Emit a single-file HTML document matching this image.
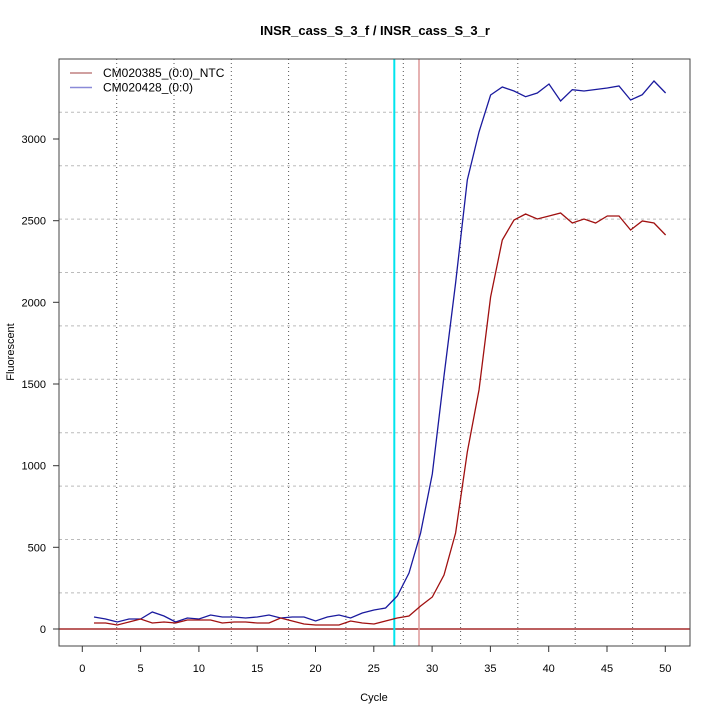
<!DOCTYPE html>
<html><head><meta charset="utf-8"><style>
html,body{margin:0;padding:0;background:#fff;}
svg{display:block;font-family:"Liberation Sans",Arial,sans-serif;}
</style></head><body>
<svg width="720" height="720" viewBox="0 0 720 720" xmlns="http://www.w3.org/2000/svg">
<rect width="720" height="720" fill="#fff"/>
<text x="375" y="35" text-anchor="middle" font-size="13" font-weight="bold">INSR_cass_S_3_f / INSR_cass_S_3_r</text>
<g stroke="#bbb" stroke-width="1" stroke-dasharray="3,3">
<line x1="59" x2="690" y1="112.3" y2="112.3"/><line x1="59" x2="690" y1="165.7" y2="165.7"/>
<line x1="59" x2="690" y1="219.1" y2="219.1"/><line x1="59" x2="690" y1="272.5" y2="272.5"/>
<line x1="59" x2="690" y1="325.9" y2="325.9"/><line x1="59" x2="690" y1="379.3" y2="379.3"/>
<line x1="59" x2="690" y1="432.7" y2="432.7"/><line x1="59" x2="690" y1="486.1" y2="486.1"/>
<line x1="59" x2="690" y1="539.5" y2="539.5"/><line x1="59" x2="690" y1="592.9" y2="592.9"/>
</g>
<g stroke="#555" stroke-width="1" stroke-dasharray="1,3">
<line y1="59" y2="646" x1="116.7" x2="116.7"/><line y1="59" y2="646" x1="174" x2="174"/>
<line y1="59" y2="646" x1="231.3" x2="231.3"/><line y1="59" y2="646" x1="288.6" x2="288.6"/>
<line y1="59" y2="646" x1="345.9" x2="345.9"/><line y1="59" y2="646" x1="403.3" x2="403.3"/>
<line y1="59" y2="646" x1="460.6" x2="460.6"/><line y1="59" y2="646" x1="517.8" x2="517.8"/>
<line y1="59" y2="646" x1="575.2" x2="575.2"/><line y1="59" y2="646" x1="632.6" x2="632.6"/>
</g>
<line x1="59" x2="690" y1="629" y2="629" stroke="#a52a2a" stroke-width="1.5"/>
<line x1="394.3" x2="394.3" y1="59" y2="646" stroke="#00e5ee" stroke-width="2"/>
<line x1="419" x2="419" y1="59" y2="646" stroke="#d99" stroke-width="1.5"/>
<polyline fill="none" stroke="#1a1a9e" stroke-width="1.3" points="94,617 105.6,619 117.3,622 129,619 140.6,619 152.3,612 164,616 175.6,622 187.3,618 199,619 210.6,615 222.3,617 234,617 245.6,618 257.3,617 269,615 280.6,618 292.3,617 304,617 315.6,621 327.3,617 339,615 350.6,618 362.3,613 374,610 385.6,608 397.3,596 409,573 420.6,533 432.3,474 444,376 455.6,283 467.3,180 479,132 490.6,95 502.3,87 514,91 525.6,96.7 537.3,93 549,84 560.6,101 572.3,89.7 584,91 595.6,89.5 607.3,88 619,86 630.6,100 642.3,94.7 654,81 665.6,93"/>
<polyline fill="none" stroke="#a01010" stroke-width="1.3" points="94,623 105.6,623 117.3,625 129,622 140.6,619 152.3,623 164,622 175.6,623 187.3,620 199,620 210.6,620 222.3,623 234,622 245.6,622 257.3,623 269,623 280.6,618 292.3,621 304,624 315.6,625 327.3,625 339,625 350.6,621 362.3,623 374,624 385.6,621 397.3,618 409,616 420.6,606 432.3,597 444,575 455.6,533 467.3,452 479,390 490.6,297 502.3,240 514,220 525.6,214 537.3,219 549,216 560.6,213 572.3,223 584,219 595.6,223 607.3,216 619,216 630.6,230 642.3,221 654,223 665.6,235"/>
<rect x="59" y="59" width="631" height="587" fill="none" stroke="#444" stroke-width="1"/>
<line x1="70" x2="92" y1="73" y2="73" stroke="#a04040" stroke-width="1"/>
<line x1="70" x2="92" y1="87.5" y2="87.5" stroke="#8a8ad8" stroke-width="1.5"/>
<text x="103" y="77" font-size="12">CM020385_(0:0)_NTC</text>
<text x="103" y="91.5" font-size="12">CM020428_(0:0)</text>
<g stroke="#333" stroke-width="1">
<line x1="53" x2="59" y1="629" y2="629"/><line x1="53" x2="59" y1="547.3" y2="547.3"/>
<line x1="53" x2="59" y1="465.7" y2="465.7"/><line x1="53" x2="59" y1="384" y2="384"/>
<line x1="53" x2="59" y1="302.3" y2="302.3"/><line x1="53" x2="59" y1="220.7" y2="220.7"/>
<line x1="53" x2="59" y1="139" y2="139"/>
</g>
<g font-size="11" text-anchor="end">
<text x="46" y="633">0</text><text x="46" y="551.3">500</text><text x="46" y="469.7">1000</text>
<text x="46" y="388">1500</text><text x="46" y="306.3">2000</text><text x="46" y="224.7">2500</text>
<text x="46" y="143">3000</text>
</g>
<g stroke="#333" stroke-width="1">
<line y1="646" y2="652" x1="82.3" x2="82.3"/><line y1="646" y2="652" x1="140.6" x2="140.6"/>
<line y1="646" y2="652" x1="198.9" x2="198.9"/><line y1="646" y2="652" x1="257.2" x2="257.2"/>
<line y1="646" y2="652" x1="315.5" x2="315.5"/><line y1="646" y2="652" x1="373.8" x2="373.8"/>
<line y1="646" y2="652" x1="432.1" x2="432.1"/><line y1="646" y2="652" x1="490.4" x2="490.4"/>
<line y1="646" y2="652" x1="548.7" x2="548.7"/><line y1="646" y2="652" x1="607" x2="607"/>
<line y1="646" y2="652" x1="665.3" x2="665.3"/>
</g>
<g font-size="11" text-anchor="middle">
<text x="82.3" y="672">0</text><text x="140.6" y="672">5</text><text x="198.9" y="672">10</text>
<text x="257.2" y="672">15</text><text x="315.5" y="672">20</text><text x="373.8" y="672">25</text>
<text x="432.1" y="672">30</text><text x="490.4" y="672">35</text><text x="548.7" y="672">40</text>
<text x="607" y="672">45</text><text x="665.3" y="672">50</text>
</g>
<text x="374" y="701" font-size="11" text-anchor="middle">Cycle</text>
<text transform="translate(14,352) rotate(-90)" font-size="11" text-anchor="middle">Fluorescent</text>
</svg>
</body></html>
